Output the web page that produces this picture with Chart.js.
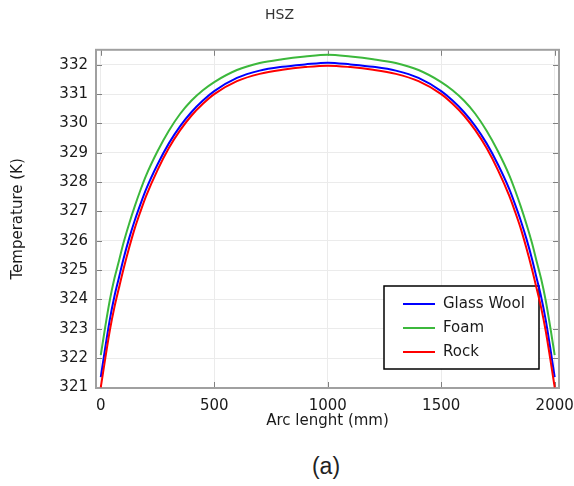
<!DOCTYPE html>
<html>
<head>
<meta charset="utf-8">
<script src="https://cdn.jsdelivr.net/npm/chart.js@4.4.1/dist/chart.umd.min.js"></script>
<style>
	body { margin: 0; background: #fff; }
	#wrap { width: 574px; height: 486px; }
	#chart--hsz { display: block; }
	#caption { height: 32px; line-height: 32px; padding-left: 78px; text-align: center; font-family: 'Liberation Sans', Arial, sans-serif; font-size: 23px; color: #222; }
</style>
</head>
<body>
<div id="wrap">
	<canvas id="chart--hsz" width="574" height="450"></canvas>
	<div id="caption">(a)</div>
</div>
<script>
// arc length along the HSZ path (mm)
const arcLength = [0, 20, 40, 60, 80, 100, 125, 150, 175, 200, 250, 300, 350, 400, 450, 500, 600, 700, 800, 900, 1000,
	1100, 1200, 1300, 1400, 1500, 1550, 1600, 1650, 1700, 1750, 1800, 1825, 1850, 1875, 1900, 1920, 1940, 1960, 1980, 2000]

// temperature (K) for each insulation
const glassWool = [321.35, 322.37, 323.32, 324.10, 324.74, 325.38, 326.08, 326.70, 327.25, 327.76, 328.60, 329.32, 329.91, 330.39, 330.78, 331.10, 331.55, 331.80, 331.93, 332.01, 332.07,
	332.01, 331.93, 331.80, 331.55, 331.10, 330.78, 330.39, 329.91, 329.32, 328.60, 327.76, 327.25, 326.70, 326.08, 325.38, 324.74, 324.10, 323.32, 322.37, 321.35]
const foam = [322.10, 323.08, 323.98, 324.71, 325.31, 325.92, 326.58, 327.18, 327.73, 328.23, 329.05, 329.75, 330.33, 330.78, 331.13, 331.41, 331.82, 332.06, 332.19, 332.28, 332.34,
	332.28, 332.19, 332.06, 331.82, 331.41, 331.13, 330.78, 330.33, 329.75, 329.05, 328.23, 327.73, 327.18, 326.58, 325.92, 325.31, 324.71, 323.98, 323.08, 322.10]
const rock = [321.00, 322.00, 322.95, 323.73, 324.39, 325.03, 325.76, 326.43, 327.00, 327.53, 328.41, 329.16, 329.77, 330.27, 330.67, 331.00, 331.44, 331.69, 331.83, 331.92, 331.97,
	331.92, 331.83, 331.69, 331.44, 331.00, 330.67, 330.27, 329.77, 329.16, 328.41, 327.53, 327.00, 326.43, 325.76, 325.03, 324.39, 323.73, 322.95, 322.00, 321.00]

const xTicks = [0, 500, 1000, 1500, 2000]
const yTicks = [321, 322, 323, 324, 325, 326, 327, 328, 329, 330, 331, 332]

const fam = "'DejaVu Sans', sans-serif"
const ink = '#1a1a1a'

function points(vals) {
	return arcLength.map(function(x, i) { return {x: x, y: vals[i]} })
}

// box, inner tick marks and legend, drawn under the curves
const frame = {
	id: 'frame',
	beforeDatasetsDraw(chart) {
		const ctx = chart.ctx
		const a = chart.chartArea
		const sx = chart.scales.x, sy = chart.scales.y
		ctx.save()
		ctx.strokeStyle = '#808080'
		ctx.lineWidth = 1
		ctx.beginPath()
		xTicks.forEach(function(v) {
			const px = Math.round(sx.getPixelForValue(v)) + 0.5
			ctx.moveTo(px, a.top); ctx.lineTo(px, a.top + 6)
			ctx.moveTo(px, a.bottom); ctx.lineTo(px, a.bottom - 6)
		})
		yTicks.forEach(function(v) {
			const py = Math.round(sy.getPixelForValue(v)) + 0.5
			ctx.moveTo(a.left, py); ctx.lineTo(a.left + 6, py)
			ctx.moveTo(a.right, py); ctx.lineTo(a.right - 6, py)
		})
		ctx.stroke()

		ctx.strokeStyle = '#a0a0a0'
		ctx.lineWidth = 2
		ctx.strokeRect(a.left, a.top, a.right - a.left, a.bottom - a.top)

		// legend
		const w = 155, h = 83
		const lx = a.right - 20 - w, ly = a.bottom - 19 - h
		ctx.fillStyle = '#fff'
		ctx.fillRect(lx, ly, w, h)
		ctx.strokeStyle = '#000'
		ctx.lineWidth = 1.5
		ctx.strokeRect(lx, ly, w, h)
		ctx.font = '15px ' + fam
		ctx.textBaseline = 'middle'
		ctx.textAlign = 'left'
		chart.data.datasets.forEach(function(ds, i) {
			const y = ly + 18 + i * 24
			ctx.strokeStyle = ds.borderColor
			ctx.lineWidth = 2
			ctx.beginPath()
			ctx.moveTo(lx + 19, y); ctx.lineTo(lx + 51, y)
			ctx.stroke()
			ctx.fillStyle = ink
			ctx.fillText(ds.label, lx + 59, y)
		})
		ctx.restore()
	}
}

const ctx = document.getElementById('chart--hsz').getContext('2d')
const chart__hsz = new Chart(ctx, {
	type: 'line',
	data: {
		datasets: [{
			label: 'Glass Wool',
			data: points(glassWool),
			borderColor: '#0000ff',
			order: 2
		}, {
			label: 'Foam',
			data: points(foam),
			borderColor: '#3cb83c',
			order: 3
		}, {
			label: 'Rock',
			data: points(rock),
			borderColor: '#ff0000',
			order: 1
		}]
	},
	options: {
		responsive: false,
		animation: false,
		layout: { padding: { left: 0, right: 15, top: 0, bottom: 0 } },
		elements: {
			point: { radius: 0 },
			line: { borderWidth: 2, cubicInterpolationMode: 'monotone', fill: false }
		},
		plugins: {
			legend: { display: false },
			tooltip: { enabled: false },
			title: {
				display: true,
				text: 'HSZ',
				color: '#333',
				font: { family: fam, size: 14, weight: 'normal' },
				padding: { top: 7, bottom: 26 }
			}
		},
		scales: {
			x: {
				type: 'linear',
				min: -21,
				max: 2019,
				afterBuildTicks: function(s) { s.ticks = xTicks.map(function(v) { return {value: v} }) },
				afterFit: function(s) { s.height = 62; s.paddingLeft = 0; s.paddingRight = 0 },
				grid: { color: '#ebebeb', drawTicks: false },
				border: { display: false },
				ticks: {
					autoSkip: false,
					maxRotation: 0,
					padding: 9,
					color: ink,
					font: { family: fam, size: 15 },
					callback: function(v) { return String(v) }
				},
				title: {
					display: true,
					text: 'Arc lenght (mm)',
					color: ink,
					font: { family: fam, size: 15 },
					padding: { top: 0, bottom: 20 }
				}
			},
			y: {
				type: 'linear',
				min: 320.98,
				max: 332.51,
				afterBuildTicks: function(s) { s.ticks = yTicks.map(function(v) { return {value: v} }) },
				afterFit: function(s) { s.width = 96; s.paddingTop = 0; s.paddingBottom = 0 },
				grid: { color: '#ebebeb', drawTicks: false },
				border: { display: false },
				ticks: {
					autoSkip: false,
					padding: 8,
					color: ink,
					font: { family: fam, size: 15 },
					callback: function(v) { return String(v) }
				},
				title: {
					display: true,
					text: 'Temperature (K)',
					color: ink,
					font: { family: fam, size: 15 },
					padding: { top: 9, bottom: 0 }
				}
			}
		}
	},
	plugins: [frame]
})
</script>
</body>
</html>
